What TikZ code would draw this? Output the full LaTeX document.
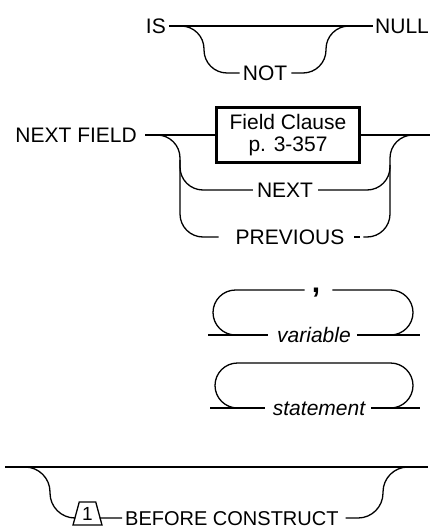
\documentclass[tikz,border=0pt]{standalone}
\usepackage{fontspec}
\setmainfont{Liberation Sans}
\usetikzlibrary{shapes.geometric}
\begin{document}
\begin{tikzpicture}[x=1pt,y=-1pt,
  ln/.style={line width=1.3pt, rounded corners=23pt},
  kw/.style={inner sep=0pt, font=\fontsize{21}{21}\selectfont, text height=15pt, text depth=0pt},
  kwit/.style={kw, font=\fontsize{21}{21}\selectfont\itshape},
  refbox/.style={draw, line width=2.6pt, minimum width=143pt, minimum height=55pt,
    align=center, inner sep=0pt, font=\fontsize{21}{22}\selectfont},
  note/.style={draw, line width=1.3pt, trapezium, trapezium stretches=true,
    trapezium angle=73, minimum width=29pt, minimum height=23pt, inner sep=0pt,
    font=\fontsize{19}{19}\selectfont},
]
\useasboundingbox (0,0) rectangle (431,529);

% IS [NOT] NULL
\node[kw, anchor=east] (is) at (166,26) {IS};
\node[kw, anchor=west] (null) at (375,26) {NULL};
\node[kw] (not) at (265,73) {NOT};
\coordinate (a1) at (180,26);
\coordinate (a2) at (350,26);
\draw[ln] ([xshift=3pt]is.east) -- ([xshift=-2pt]null.west);
\draw[ln] (a1) -- (204,26) -- (204,73) -- ([xshift=-3pt]not.west);
\draw[ln] ([xshift=4pt]not.east) -- (326,73) -- (326,26) -- (a2);

% NEXT FIELD with its three alternatives
\node[kw, anchor=east] (nf) at (137,135) {NEXT FIELD};
\node[refbox] (fc) at (288,135) {Field Clause\\p. 3-357};
\node[kw] (nx) at (285,190) {NEXT};
\node[kw] (pv) at (290,237) {PREVIOUS};
\coordinate (b1) at (157,135);
\coordinate (b2) at (413,135);
\coordinate (b3) at (430,135);
\draw[ln] ([xshift=8pt]nf.east) -- (fc.west);
\draw[ln] (fc.east) -- (b3);
\draw[ln] (b1) -- (180,135) -- (180,237) -- ([xshift=-17pt]pv.west);
\draw[ln] (180,160) -- (180,190) -- ([xshift=-4pt]nx.west);
\draw[ln] ([xshift=5pt]nx.east) -- (390,190) -- (390,165);
\draw[ln] ([xshift=10pt]pv.east) -- ([xshift=16pt]pv.east);
\draw[ln] ([xshift=19pt]pv.east) -- (390,237) -- (390,135) -- (b2);

% variable list separated by commas
\node[kwit] (var) at (314,335) {variable};
\node[inner sep=0pt, font=\fontsize{30}{30}\selectfont\bfseries, anchor=base] (cm) at (316,292) {,};
\coordinate (v1) at (208,335);
\coordinate (v2) at (420,335);
\draw[ln] (v1) -- ([xshift=-9pt]var.west);
\draw[ln] ([xshift=6pt]var.east) -- (v2);
\draw[ln, rounded corners=22.5pt] (238,335) -- (213,335) -- (213,290) -- ([xshift=-7pt]cm.west |- 0,290);
\draw[ln, rounded corners=22.5pt] ([xshift=12pt]cm.east |- 0,290) -- (413,290) -- (413,335) -- (390,335);

% repeated statement
\node[kwit] (st) at (319,408) {statement};
\coordinate (s1) at (210,408);
\coordinate (s2) at (420,408);
\draw[ln] (s1) -- ([xshift=-8pt]st.west);
\draw[ln] ([xshift=6pt]st.east) -- (s2);
\draw[ln, rounded corners=22.5pt] (238,408) -- (215,408) -- (215,363) -- (413,363) -- (413,408) -- (390,408);

% optional BEFORE CONSTRUCT
\coordinate (c1) at (5,467);
\coordinate (c2) at (428,467);
\coordinate (c3) at (25,467);
\coordinate (c4) at (407,467);
\node[note] (t1) at (87.5,513.5) {1};
\node[kw, anchor=west, font=\fontsize{20}{20}\selectfont] (bc) at (125,518) {BEFORE CONSTRUCT};
\draw[ln] (c1) -- (c2);
\draw[ln, rounded corners=25pt] (c3) -- (50,467) -- (50,518) -- ([yshift=-4.5pt]t1.west);
\draw[ln] ([yshift=-4.5pt]t1.east) -- ([xshift=-3pt]bc.west);
\draw[ln, rounded corners=25pt] ([xshift=7pt]bc.east) -- (383,518) -- (383,467) -- (c4);
\end{tikzpicture}
\end{document}
